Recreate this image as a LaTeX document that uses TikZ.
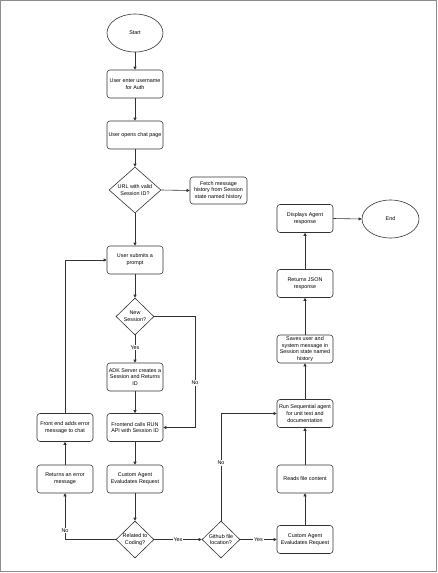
\documentclass[tikz,border=0pt]{standalone}
\usepackage{fontspec}
\setmainfont{Liberation Sans}
\usetikzlibrary{shapes.geometric,arrows.meta}
\tikzset{
  every node/.style={font=\fontsize{5.4}{6.8}\selectfont, align=center},
  flowbox/.style={draw=black!80, line width=0.6pt, rounded corners=3pt, minimum width=56pt, minimum height=28pt, inner sep=0pt},
  decision/.style={draw=black!80, line width=0.6pt, diamond, inner sep=0pt, minimum width=38pt, minimum height=37pt},
  terminal/.style={draw=black!80, line width=0.6pt, ellipse, minimum width=56pt, minimum height=38pt},
  flow/.style={draw=black!80, line width=0.6pt, -{Triangle[length=3pt,width=3pt]}},
  tag/.style={fill=white, inner sep=0.8pt}
}
\begin{document}
\begin{tikzpicture}[x=1pt,y=-1pt]
\useasboundingbox (0,0) rectangle (438,573);
\draw[black!45, line width=1.2pt] (0.8,0.8) rectangle (436.8,571.8);

\node[terminal] (start) at (135,33) {Start};
\node[flowbox] (auth) at (135,84) {User enter username\\for Auth};
\node[flowbox] (chat) at (135,135) {User opens chat page};
\node[decision, minimum width=52pt, minimum height=46pt] (url) at (135,190) {URL with valid\\Session ID?};
\node[flowbox, minimum width=57pt, minimum height=27pt] (fetch) at (218.5,190.5) {Fetch message\\history from Session\\state named history};
\node[flowbox] (prompt) at (135,260) {User submits a\\prompt};
\node[decision] (newsess) at (135,316.5) {New\\Session?};
\node[flowbox] (adk) at (135,377) {ADK Server creates a\\Session and Returns\\ID};
\node[flowbox] (runapi) at (135,427.5) {Frontend calls RUN\\API with Session ID};
\node[flowbox] (fronterr) at (65,427.5) {Front end adds error\\message to chat};
\node[flowbox] (errmsg) at (65,479) {Returns an error\\message};
\node[flowbox] (evalA) at (135,479) {Custom Agent\\Evaludates Request};
\node[decision] (coding) at (135,539.5) {Related to\\Coding?};
\node[decision] (github) at (221,539.5) {Github file\\location?};
\node[flowbox] (evalB) at (305,539.5) {Custom Agent\\Evaludates Request};
\node[flowbox] (reads) at (305,479) {Reads file content};
\node[flowbox] (runseq) at (305,413.5) {Run Sequential agent\\for unit test and\\documentation};
\node[flowbox] (saves) at (305,349) {Saves user and\\system message in\\Session state named\\history};
\node[flowbox] (json) at (305,283.5) {Returns JSON\\response};
\node[flowbox] (display) at (305,218.5) {Displays Agent\\response};
\node[terminal, minimum width=57pt] (end) at (390.5,219) {End};

\coordinate (nobend) at (195,316.5);

\draw[flow] (start) -- (auth);
\draw[flow] (auth) -- (chat);
\draw[flow] (chat) -- (url);
\draw[flow] (url.east) -- (fetch.west);
\draw[flow] (url.south) -- (prompt.north);
\draw[flow] (prompt) -- (newsess);
\draw[flow] (newsess.south) -- node[tag, pos=0.45] {Yes} (adk.north);
\draw[flow] (newsess.east) -- (nobend) |- node[tag, pos=0.3] {No} (runapi.east);
\draw[flow] (adk) -- (runapi);
\draw[flow] (runapi) -- (evalA);
\draw[flow] (evalA) -- (coding);
\draw[flow] (coding.west) -| node[tag, pos=0.6] {No} (errmsg.south);
\draw[flow] (errmsg) -- (fronterr);
\draw[flow] (fronterr.north) |- (prompt.west);
\draw[flow] (coding.east) -- node[tag] {Yes} (github.west);
\draw[flow] (github.east) -- node[tag] {Yes} (evalB.west);
\draw[flow] (github.north) |- node[tag, pos=0.27] {No} (runseq.west);
\draw[flow] (evalB) -- (reads);
\draw[flow] (reads) -- (runseq);
\draw[flow] (runseq) -- (saves);
\draw[flow] (saves) -- (json);
\draw[flow] (json) -- (display);
\draw[flow] (display.east) -- (end.west);
\end{tikzpicture}
\end{document}
